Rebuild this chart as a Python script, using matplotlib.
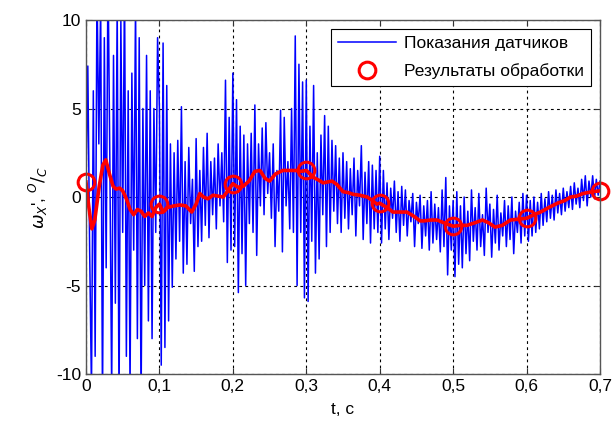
import numpy as np
import matplotlib
matplotlib.use("Agg")
import matplotlib.pyplot as plt

# показания датчиков, шаг 2.5 мс (0 ... 0.7 с)
sensor = [
    # 0.00 - 0.1
    0.5, 7.4, -3, -11, 6, -9, 12, 3, 11, -12, 9, -4, 13, 2, -11, 8, -6, 11, -12, 10,
    -2, 12, -9, 6, -11, 7, -3, 11, -8, 9, -12, 5, -5, 8, -7, 6, -8, 5, -2, 9,
    # 0.1 - 0.2
    5, -9.5, 8.7, -8.5, 6.3, -7, 3, -5.1, 2.5, -3.5, 3.2, -2.5, 5.1, -4.3, 2, -3.8, 2.8, -1.5, 1, -4.2,
    3.3, -2.8, 1.5, -2.5, 2.8, -1.6, 3.6, -2.3, 2.0, -1.0, 2.2, -1.8, 3.0, -0.5, 2.5, -1.4, 6.6, -3.7, 4.5, -3.0,
    # 0.2 - 0.3
    7.0, -2.8, 5.5, -5.4, 4.0, -3.2, 3.5, -5.0, 3.0, -1.5, 3.6, -2.0, 5.2, -3.3, 3.0, -0.5, 3.9, -1.0, 4.2, 0.2,
    2.5, -1.2, 3.0, -2.8, 1.5, -0.8, 4.9, -3.1, 4.5, -0.5, 2.0, -1.8, 5.0, -2.0, 9.1, -5.0, 7.5, -2.0, 6.5, -5.7,
    # 0.3 - 0.4
    6.6, -5.9, 4.0, -2.5, 6.3, -4.3, 2.5, -3.5, 3.5, -1.0, 4.6, -2.8, 4.0, -2.0, 3.2, -0.8, 2.9, -1.5, 2.2, -2.0,
    2.5, -1.2, 2.0, -1.8, 1.6, -1.0, 2.2, -2.2, 1.5, -0.5, 2.9, -2.4, 1.4, -1.5, 2.0, -2.6, 1.8, -1.8, 1.5, -2.0,
    # 0.4 - 0.5
    2.3, -2.6, 1.5, -1.8, 0.8, -2.4, 0.5, -1.2, 0.9, -2.0, 0.3, -2.5, 0.6, -1.6, 0.4, -2.2, -0.2, -1.4, 0.2, -2.8,
    -0.3, -1.5, 0.1, -2.9, -0.5, -2.2, -0.2, -3.0, 0.3, -2.6, -0.4, -2.4, -0.6, -3.1, 0.4, -2.8, 1.1, -4.4, -0.5, -3.0,
    # 0.5 - 0.6
    -0.2, -4.5, 0.3, -3.8, -0.5, -4.0, 0.0, -3.2, -0.8, -3.6, 0.4, -2.5, -0.6, -3.0, 0.2, -2.8, -1.0, -3.3, 0.5, -2.0,
    -0.4, -3.4, -0.7, -2.6, 0.1, -3.0, -0.9, -2.2, -0.2, -2.8, -0.5, -2.4, 0.0, -3.2, -0.8, -2.0, -0.3, -2.6, 0.2, -2.2,
    # 0.6 - 0.7
    0.1, -2.5, -0.2, -2.2, 0.0, -2.0, -0.3, -1.8, 0.2, -1.6, -0.1, -1.4, 0.3, -1.2, 0.1, -1.3, 0.4, -0.9, 0.2, -1.0,
    0.5, -0.8, 0.3, -0.6, 0.6, -0.7, 0.8, -0.4, 0.5, -0.6, 1.0, -0.2, 1.2, -0.5, 0.9, 0.0, 1.2, -0.1, 1.0, 0.1,
    0.9,
]
t_sensor = np.linspace(0, 0.7, len(sensor))

# результаты обработки (сглаженная кривая)
t_filt = [0.0, 0.004, 0.008, 0.012, 0.018, 0.023, 0.027, 0.032, 0.037, 0.041, 0.046, 0.05, 0.055,
          0.06, 0.065, 0.07, 0.075, 0.08, 0.085, 0.09, 0.095, 0.1, 0.105, 0.11, 0.12, 0.128,
          0.136, 0.144, 0.15, 0.155, 0.16, 0.166, 0.173, 0.18, 0.187, 0.194, 0.2, 0.207, 0.214,
          0.222, 0.23, 0.237, 0.244, 0.25, 0.258, 0.268, 0.276, 0.285, 0.293, 0.3, 0.31, 0.317,
          0.323, 0.335, 0.342, 0.35, 0.357, 0.364, 0.373, 0.383, 0.39, 0.396, 0.4, 0.41, 0.418,
          0.428, 0.437, 0.447, 0.455, 0.46, 0.47, 0.478, 0.49, 0.5, 0.51, 0.519, 0.53, 0.54,
          0.548, 0.557, 0.567, 0.578, 0.59, 0.6, 0.61, 0.619, 0.63, 0.642, 0.652, 0.66, 0.668,
          0.677, 0.69, 0.7]
filt = [0.85, -0.6, -1.8, -1.3, 0.6, 1.8, 2.1, 1.3, 0.6, 0.45, 0.5, 0.35, -0.1,
        -0.7, -1.0, -0.7, -0.8, -1.1, -0.9, -1.1, -0.6, -0.4, -0.85, -0.6, -0.5, -0.45,
        -0.5, -0.85, -0.4, 0.2, 0.0, -0.1, 0.1, 0.05, 0.0, 0.4, 0.75, 0.55, 0.6,
        0.9, 1.45, 1.5, 1.05, 0.9, 1.3, 1.5, 1.5, 1.5, 1.45, 1.5, 1.1, 0.95,
        0.8, 0.9, 0.7, 0.3, 0.25, 0.15, 0.1, 0.0, -0.2, -0.4, -0.35, -0.6, -0.85,
        -0.85, -0.85, -1.1, -1.35, -1.35, -1.3, -1.3, -1.5, -1.65, -1.6, -1.6, -1.45, -1.3,
        -1.45, -1.7, -1.6, -1.3, -1.25, -1.2, -1.0, -0.85, -0.6, -0.35, -0.2, 0.0, 0.05,
        0.2, 0.3, 0.35]

t_marks = [0.0, 0.1, 0.2, 0.3, 0.4, 0.5, 0.6, 0.7]
marks = [0.85, -0.4, 0.75, 1.5, -0.35, -1.65, -1.2, 0.35]

xticks = [0, 0.1, 0.2, 0.3, 0.4, 0.5, 0.6, 0.7]
xticklabels = ["0", "0,1", "0,2", "0,3", "0,4", "0,5", "0,6", "0,7"]
yticks = [-10, -5, 0, 5, 10]

plt.rcParams["font.family"] = ["Liberation Sans", "DejaVu Sans"]
plt.rcParams["font.size"] = 12.5
plt.rcParams["axes.unicode_minus"] = False

fig = plt.figure(figsize=(6.15, 4.21), dpi=100)
ax = fig.add_axes([0.1398, 0.1116, 0.8358, 0.8409])

ax.plot(t_sensor, sensor, color="#0000ff", lw=1.1, label="Показания датчиков")
ax.plot(t_filt, filt, color="#ff0000", lw=2.6)
ax.plot(t_marks, marks, ls="none", marker="o", ms=12, mfc="none", mec="#ff0000", mew=2.2,
        label="Результаты обработки", clip_on=False)

ax.set_xlim(0, 0.7)
ax.set_ylim(-10, 10)
ax.set_xticks(xticks)
ax.set_xticklabels(xticklabels)
ax.set_yticks(yticks)
ax.tick_params(direction="in", length=4, color="#333333", top=True, right=True)
for s in ax.spines.values():
    s.set_color("#555555")
    s.set_linewidth(1.0)
ax.grid(True, color="black", ls=(0, (2.5, 3)), lw=0.8)

ax.set_xlabel("t, c", labelpad=6)
ax.set_ylabel(r"$\omega_{X}$', $^{O}/_{C}$", labelpad=4)

leg = ax.legend(loc="upper right", fancybox=False, edgecolor="black", framealpha=1,
                handlelength=3.3, handletextpad=0.5, borderaxespad=0.5, labelspacing=0.7,
                fontsize=12.5)
leg.get_frame().set_linewidth(0.8)

fig.savefig("out.png", dpi=100)
